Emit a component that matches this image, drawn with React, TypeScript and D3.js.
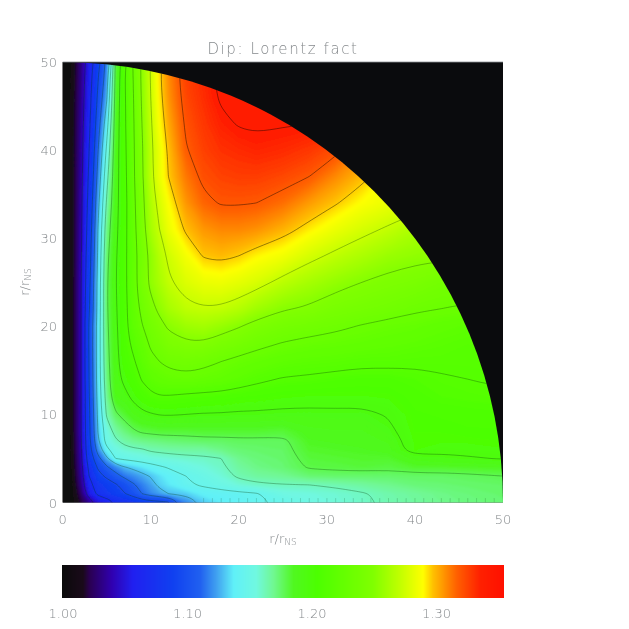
// Dipole Lorentz factor map, IDL style
import React, { useRef, useEffect } from 'react';
import * as d3 from 'd3';

// grid columns and rows, in r/rNS
const xCols = [0, 1, 2, 3, 4, 5, 6, 7, 8, 9, 10, 11, 12, 14, 16, 18, 20, 22, 25, 28, 31, 34, 37, 40, 43, 46, 50];
const yRows = [0, 1, 2, 3, 4, 5, 6, 7, 8, 10, 12, 14, 16, 18, 20, 22, 25, 28, 31, 34, 37, 40, 43, 46, 50];

// Lorentz factor, one line per row of yRows
const gamma = [
  [1.0, 1.005, 1.02, 1.035, 1.05, 1.06, 1.07, 1.075, 1.08, 1.085, 1.088, 1.09, 1.093, 1.12, 1.132, 1.138, 1.141, 1.145, 1.149, 1.154, 1.158, 1.161, 1.165, 1.168, 1.171, 1.173, 1.175],
  [1.0, 1.007, 1.025, 1.055, 1.075, 1.082, 1.088, 1.094, 1.102, 1.113, 1.12, 1.125, 1.13, 1.133, 1.14, 1.142, 1.144, 1.146, 1.155, 1.157, 1.159, 1.162, 1.166, 1.169, 1.172, 1.174, 1.176],
  [1.0, 1.008, 1.03, 1.063, 1.08, 1.087, 1.093, 1.101, 1.111, 1.118, 1.125, 1.133, 1.137, 1.145, 1.149, 1.153, 1.158, 1.161, 1.1625, 1.163, 1.165, 1.168, 1.171, 1.174, 1.175, 1.176, 1.177],
  [1.0, 1.009, 1.033, 1.07, 1.09, 1.098, 1.108, 1.116, 1.121, 1.126, 1.131, 1.136, 1.14, 1.147, 1.152, 1.158, 1.165, 1.168, 1.17, 1.175, 1.176, 1.176, 1.176, 1.177, 1.177, 1.178, 1.18],
  [1.0, 1.01, 1.035, 1.075, 1.097, 1.111, 1.12, 1.129, 1.133, 1.137, 1.141, 1.145, 1.148, 1.153, 1.157, 1.161, 1.168, 1.172, 1.175, 1.181, 1.182, 1.183, 1.182, 1.185, 1.185, 1.186, 1.187],
  [1.0, 1.01, 1.037, 1.083, 1.108, 1.127, 1.147, 1.15, 1.152, 1.154, 1.156, 1.157, 1.158, 1.16, 1.161, 1.163, 1.171, 1.174, 1.176, 1.183, 1.184, 1.185, 1.185, 1.192, 1.194, 1.1955, 1.198],
  [1.0, 1.011, 1.038, 1.087, 1.12, 1.143, 1.155, 1.159, 1.161, 1.162, 1.165, 1.166, 1.167, 1.168, 1.168, 1.172, 1.175, 1.176, 1.177, 1.185, 1.186, 1.187, 1.189, 1.2025, 1.2, 1.201, 1.202],
  [1.0, 1.011, 1.039, 1.09, 1.127, 1.154, 1.161, 1.167, 1.17, 1.172, 1.173, 1.174, 1.175, 1.176, 1.177, 1.177, 1.178, 1.178, 1.178, 1.187, 1.188, 1.189, 1.191, 1.203, 1.203, 1.203, 1.204],
  [1.0, 1.012, 1.04, 1.091, 1.13, 1.155, 1.167, 1.173, 1.178, 1.181, 1.182, 1.183, 1.183, 1.183, 1.184, 1.184, 1.184, 1.184, 1.183, 1.189, 1.19, 1.19, 1.194, 1.204, 1.204, 1.205, 1.205],
  [1.0, 1.012, 1.04, 1.092, 1.133, 1.165, 1.178, 1.184, 1.19, 1.194, 1.196, 1.1975, 1.198, 1.197, 1.196, 1.196, 1.195, 1.195, 1.194, 1.194, 1.1945, 1.194, 1.198, 1.205, 1.206, 1.207, 1.208],
  [1.0, 1.012, 1.04, 1.094, 1.135, 1.17, 1.19, 1.193, 1.2, 1.206, 1.21, 1.212, 1.212, 1.21, 1.209, 1.208, 1.206, 1.205, 1.203, 1.202, 1.202, 1.202, 1.203, 1.207, 1.21, 1.211, 1.212],
  [1.0, 1.012, 1.04, 1.095, 1.137, 1.173, 1.192, 1.2, 1.206, 1.214, 1.22, 1.224, 1.226, 1.228, 1.226, 1.224, 1.22, 1.216, 1.212, 1.211, 1.209, 1.208, 1.208, 1.21, 1.212, 1.213, 1.214],
  [1.0, 1.012, 1.04, 1.096, 1.137, 1.175, 1.192, 1.205, 1.211, 1.22, 1.229, 1.232, 1.236, 1.238, 1.236, 1.232, 1.228, 1.225, 1.221, 1.219, 1.218, 1.216, 1.216, 1.215, 1.215, 1.215, 1.216],
  [1.0, 1.012, 1.04, 1.097, 1.137, 1.176, 1.193, 1.207, 1.216, 1.225, 1.234, 1.24, 1.246, 1.25, 1.25, 1.245, 1.241, 1.236, 1.231, 1.228, 1.226, 1.224, 1.222, 1.22, 1.218, 1.216, 1.216],
  [1.0, 1.012, 1.04, 1.097, 1.137, 1.177, 1.194, 1.208, 1.221, 1.231, 1.24, 1.247, 1.254, 1.26, 1.262, 1.258, 1.253, 1.247, 1.241, 1.238, 1.235, 1.231, 1.228, 1.226, 1.222, 1.22, 1.218],
  [1.0, 1.012, 1.04, 1.093, 1.135, 1.178, 1.195, 1.208, 1.223, 1.236, 1.247, 1.256, 1.263, 1.271, 1.273, 1.272, 1.268, 1.261, 1.2535, 1.25, 1.244, 1.241, 1.238, 1.234, 1.232, 1.23, 1.23],
  [1.0, 1.012, 1.04, 1.09, 1.135, 1.178, 1.196, 1.209, 1.225, 1.243, 1.256, 1.264, 1.272, 1.28, 1.285, 1.286, 1.283, 1.279, 1.27, 1.263, 1.257, 1.252, 1.248, 1.245, 1.24, 1.24, 1.24],
  [1.0, 1.012, 1.039, 1.086, 1.132, 1.176, 1.195, 1.209, 1.224, 1.241, 1.256, 1.268, 1.276, 1.288, 1.298, 1.3, 1.297, 1.292, 1.287, 1.278, 1.271, 1.265, 1.259, 1.256, 1.255, 1.255, 1.255],
  [1.0, 1.012, 1.038, 1.082, 1.13, 1.172, 1.193, 1.208, 1.226, 1.246, 1.263, 1.274, 1.285, 1.299, 1.307, 1.31, 1.31, 1.308, 1.3015, 1.293, 1.285, 1.278, 1.272, 1.265, 1.26, 1.26, 1.26],
  [1.0, 1.012, 1.037, 1.078, 1.125, 1.165, 1.192, 1.207, 1.227, 1.247, 1.266, 1.279, 1.29, 1.307, 1.317, 1.321, 1.321, 1.32, 1.315, 1.306, 1.298, 1.29, 1.285, 1.28, 1.28, 1.28, 1.28],
  [1.0, 1.012, 1.036, 1.074, 1.118, 1.158, 1.191, 1.208, 1.229, 1.25, 1.27, 1.285, 1.297, 1.313, 1.323, 1.3265, 1.328, 1.328, 1.325, 1.32, 1.3095, 1.3, 1.29, 1.29, 1.29, 1.29, 1.29],
  [1.0, 1.012, 1.035, 1.07, 1.112, 1.15, 1.19, 1.209, 1.229, 1.25, 1.27, 1.285, 1.299, 1.319, 1.327, 1.332, 1.334, 1.336, 1.334, 1.33, 1.323, 1.31, 1.3, 1.3, 1.3, 1.3, 1.3],
  [1.0, 1.012, 1.034, 1.066, 1.105, 1.14, 1.188, 1.21, 1.23, 1.252, 1.272, 1.29, 1.303, 1.322, 1.33, 1.337, 1.341, 1.342, 1.341, 1.34, 1.34, 1.34, 1.34, 1.34, 1.34, 1.34, 1.34],
  [1.0, 1.012, 1.032, 1.062, 1.098, 1.128, 1.186, 1.21, 1.231, 1.254, 1.274, 1.293, 1.307, 1.325, 1.333, 1.342, 1.345, 1.345, 1.345, 1.345, 1.345, 1.345, 1.345, 1.345, 1.345, 1.345, 1.345],
  [1.0, 1.01, 1.03, 1.058, 1.09, 1.118, 1.182, 1.212, 1.233, 1.256, 1.276, 1.296, 1.31, 1.328, 1.335, 1.345, 1.345, 1.345, 1.345, 1.345, 1.345, 1.345, 1.345, 1.345, 1.345, 1.345, 1.345],
];

// contour levels drawn as thin lines
const contourLevels = [1.045, 1.07, 1.095, 1.113, 1.13, 1.147, 1.163, 1.18, 1.197, 1.213, 1.232, 1.252, 1.274, 1.297, 1.32, 1.34];

// colour table
const barValues = [1.0, 1.017, 1.022, 1.04, 1.057, 1.089, 1.111, 1.124, 1.138, 1.156, 1.17, 1.186, 1.205, 1.25, 1.271, 1.29, 1.298, 1.317, 1.336, 1.355];
const barColors = ['#0a0a0a', '#1a0a1a', '#2a0050', '#3000b0', '#2020f0', '#1040f0', '#2060f0', '#40a0f0', '#60f0f8', '#70f8e0', '#70f890', '#50f820', '#4cff00', '#80ff00', '#c0ff00', '#ffff00', '#ffc000', '#ff6000', '#ff2000', '#ff1000'];

const axisTicks = [0, 10, 20, 30, 40, 50];
const barTicks = [1.0, 1.1, 1.2, 1.3];
// short marks along the bottom edge of the map
const edgeMarks = [16, 17, 18, 19, 20, 21, 22, 23, 24, 25, 26, 27, 28, 29, 30, 31, 32, 33, 34, 35, 36, 37, 38, 39, 40, 41, 42, 43, 44, 45, 46, 47, 48, 49];

const textColor = '#85898c';
const fontFamily = '"DejaVu Sans", sans-serif';

const App = () => {
  const svgRef = useRef<SVGSVGElement>(null);

  useEffect(() => {
    const svg = d3.select(svgRef.current);
    svg.selectAll('*').remove();

    const xScale = d3.scaleLinear().domain([0, 50]).range([62.7, 503]);
    const yScale = d3.scaleLinear().domain([0, 50]).range([502.5, 62]);
    const colorScale = d3.scaleLinear<string>().domain(barValues).range(barColors).clamp(true);

    // d3.contours works in cell indices, values sit at the cell centres.
    // The outer half cell runs a little past the plot so the blur has no soft rim.
    const nx = xCols.length;
    const ny = yRows.length;
    const xFromIndex = d3.scaleLinear()
      .domain([0, ...xCols.map((_, i) => i + 0.5), nx])
      .range([-4, ...xCols, 54]);
    const yFromIndex = d3.scaleLinear()
      .domain([0, ...yRows.map((_, i) => i + 0.5), ny])
      .range([-4, ...yRows, 54]);
    const toPx = (p: number[]) => [xScale(xFromIndex(p[0])), yScale(yFromIndex(p[1]))];

    const path = d3.geoPath(d3.geoTransform({
      point(x, y) {
        const [px, py] = toPx([x, y]);
        this.stream.point(px, py);
      },
    }));

    const flat = gamma.flat();
    const contours = d3.contours().size([nx, ny]);

    const defs = svg.append('defs');
    defs.append('filter')
      .attr('id', 'soft')
      .attr('filterUnits', 'userSpaceOnUse')
      .attr('x', 0).attr('y', 0).attr('width', 629).attr('height', 629)
      .append('feGaussianBlur')
      .attr('stdDeviation', 1.3);
    defs.append('filter')
      .attr('id', 'print')
      .attr('filterUnits', 'userSpaceOnUse')
      .attr('x', 0).attr('y', 0).attr('width', 629).attr('height', 629)
      .append('feGaussianBlur')
      .attr('stdDeviation', 0.35);

    // Plot background
    svg.append('rect')
      .attr('x', xScale(0))
      .attr('y', yScale(50))
      .attr('width', xScale(50) - xScale(0))
      .attr('height', yScale(0) - yScale(50))
      .attr('fill', '#0a0b0d');

    // Quarter disc clip
    const radius = xScale(50) - xScale(0);
    defs.append('clipPath')
      .attr('id', 'disc')
      .append('path')
      .attr('transform', `translate(${xScale(0)},${yScale(0)})`)
      .attr('d', d3.arc()({ innerRadius: 0, outerRadius: radius, startAngle: 0, endAngle: Math.PI / 2 }));

    const plot = svg.append('g').attr('clip-path', 'url(#disc)');

    // Filled bands, fine enough to read as a smooth image
    const bands = d3.range(1, 1.356, 0.0015);
    plot.append('g')
      .attr('filter', 'url(#soft)')
      .selectAll('path')
      .data(contours.thresholds(bands)(flat))
      .enter()
      .append('path')
      .attr('d', d => path(d))
      .attr('fill', d => colorScale(d.value));

    // Contour lines, without the stretches that run along the grid border
    const line = d3.line().curve(d3.curveBasis);
    const onBorder = (a: number[], b: number[]) =>
      (a[0] === b[0] && (a[0] <= 0 || a[0] >= nx)) || (a[1] === b[1] && (a[1] <= 0 || a[1] >= ny));
    const linePath = (d: d3.ContourMultiPolygon) => {
      let out = '';
      d.coordinates.forEach(poly => poly.forEach(ring => {
        let run: number[][] = [];
        for (let i = 1; i < ring.length; i++) {
          if (onBorder(ring[i - 1], ring[i])) {
            if (run.length) out += line(run.map(toPx) as [number, number][]);
            run = [];
          } else {
            if (!run.length) run.push(ring[i - 1]);
            run.push(ring[i]);
          }
        }
        if (run.length) out += line(run.map(toPx) as [number, number][]);
      }));
      return out;
    };
    const lines = plot.append('g').attr('filter', 'url(#print)');
    lines.selectAll('path')
      .data(contours.thresholds(contourLevels)(flat))
      .enter()
      .append('path')
      .attr('d', d => linePath(d))
      .attr('fill', 'none')
      .attr('stroke', d => (d.value > 1.28 ? '#000' : '#063a10'))
      .attr('stroke-opacity', d => (d.value > 1.28 ? 0.6 : 0.45))
      .attr('stroke-width', 0.7);

    lines.selectAll('line')
      .data(edgeMarks)
      .enter()
      .append('line')
      .attr('x1', d => xScale(d))
      .attr('x2', d => xScale(d))
      .attr('y1', yScale(0))
      .attr('y2', yScale(0.5))
      .attr('stroke', '#063a10')
      .attr('stroke-opacity', 0.25)
      .attr('stroke-width', 0.7);

    // Top edge of the frame
    svg.append('line')
      .attr('x1', xScale(0))
      .attr('x2', xScale(50))
      .attr('y1', yScale(50))
      .attr('y2', yScale(50))
      .attr('stroke', '#8a8f94')
      .attr('stroke-width', 0.8);

    const labels = svg.append('g').attr('filter', 'url(#print)');
    const label = (x: number, y: number, anchor: string, size: number) =>
      labels.append('text')
        .attr('x', x)
        .attr('y', y)
        .attr('text-anchor', anchor)
        .attr('font-family', fontFamily)
        .attr('font-weight', 200)
        .attr('font-size', size)
        .attr('fill', textColor);

    // Title
    label(283, 54, 'middle', 15).attr('letter-spacing', 1.6).text('Dip: Lorentz fact');

    // Tick labels
    axisTicks.forEach(t => {
      label(xScale(t), 524, 'middle', 13).text(t);
      label(57, yScale(t) + 5, 'end', 13).text(t);
    });

    // Axis titles
    const xTitle = label(283, 543, 'middle', 13);
    xTitle.append('tspan').text('r/r');
    xTitle.append('tspan').attr('font-size', 9).attr('dy', 2).text('NS');

    const yTitle = label(0, 0, 'middle', 13)
      .attr('transform', `translate(29,282) rotate(-90)`);
    yTitle.append('tspan').text('r/r');
    yTitle.append('tspan').attr('font-size', 9).attr('dy', 2).text('NS');

    // Colour bar, one column per pixel
    const barScale = d3.scaleLinear().domain([1, 1.355]).range([62, 504]);
    svg.selectAll('rect.bar')
      .data(d3.range(62, 504))
      .enter()
      .append('rect')
      .attr('class', 'bar')
      .attr('x', d => d)
      .attr('y', 565)
      .attr('width', 1)
      .attr('height', 33)
      .attr('fill', d => colorScale(barScale.invert(d + 0.5)));

    barTicks.forEach(t => {
      label(barScale(t) + 1, 618, 'middle', 13).text(d3.format('.2f')(t));
    });
  }, []);

  return (
    <svg
      ref={svgRef}
      width={629}
      height={629}
      style={{ position: 'absolute', left: 0, top: 0, background: '#fff' }}
    />
  );
};

export default App;
